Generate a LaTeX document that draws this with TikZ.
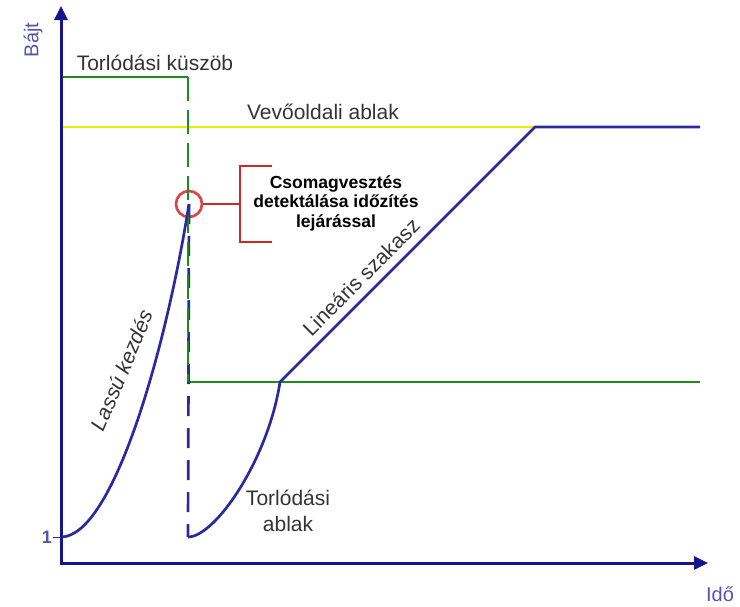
\documentclass[tikz,border=0pt]{standalone}
\usepackage{fontspec}
\setmainfont{Liberation Sans}
\usepackage{tikz}
\usetikzlibrary{arrows.meta}
\definecolor{axisblue}{HTML}{14148C}
\definecolor{curveblue}{HTML}{2A2A9E}
\definecolor{limgreen}{HTML}{1F8A1F}
\definecolor{winyellow}{HTML}{F0EC00}
\definecolor{lossred}{HTML}{D02828}
\definecolor{labgray}{HTML}{333333}
\newcommand{\lblsize}{\fontsize{21}{25}\selectfont}
\tikzset{axisline/.style={line width=3pt,draw=axisblue,line cap=rect,-{Triangle[length=14pt,width=13pt]}},axlabel/.style={text=curveblue!80,font=\fontsize{20}{22}\selectfont},lbl/.style={text=labgray,font=\lblsize},curve/.style={line width=2.7pt,draw=curveblue},limit/.style={line width=2.7pt,draw=limgreen},winline/.style={line width=2.7pt,draw=winyellow},lossmark/.style={line width=2.7pt,draw=lossred},lossring/.style={circle,draw=lossred!85,line width=2.7pt,minimum size=26pt,inner sep=0pt}}

\begin{document}
\begin{tikzpicture}[x=1pt,y=-1pt]
\useasboundingbox (0,0) rectangle (740,606);
\coordinate (o) at (61,563);
\coordinate (ytip) at (61,6);
\coordinate (xtip) at (708,563);
\coordinate (tick) at (61,537);
\coordinate (k0) at (61,77);
\coordinate (k1) at (188,77);
\coordinate (k2) at (188,382);
\coordinate (k3) at (700,382);
\coordinate (drop) at (188,537);
\coordinate (k4) at (280,382);
\coordinate (y0) at (61,127);
\coordinate (rwnd) at (535,127);
\coordinate (rend) at (700,127);
\coordinate (b0) at (240,204);
\coordinate (btop) at (240,166);
\coordinate (bbot) at (240,242);
\coordinate (btopr) at (272,166);
\coordinate (bbotr) at (272,242);
% limits
\draw[winline] (y0) -- (rwnd);
\draw[limit] (k0) -- (k1);
\draw[limit] (k2) -- (k3);
\node[lossring] (loss) at (189,204) {};
\draw[curve,dash pattern=on 20pt off 12pt] (loss.center) -- (drop);
\draw[limit,dash pattern=on 24pt off 9pt] (k1) -- (k2);
% window curves
\draw[curve] (tick) .. controls (112,537) and (165,355) .. (loss.center);
\draw[curve] (drop) .. controls (215,537) and (268,460) .. (k4) -- (rwnd) -- (rend);
% loss bracket
\draw[lossmark] (loss.east) -- (b0);
\draw[lossmark] (btopr) -- (btop) -- (bbot) -- (bbotr);
\node[align=center,text=black,font=\bfseries\fontsize{17.5}{19.5}\selectfont] (detekt) at (336,203) {Csomagvesztés\\detektálása időzítés\\lejárással};
% axes
\draw[axisline] (o) -- (ytip);
\draw[axisline] (o) -- (xtip);
\node[axlabel,rotate=90] (bajt) at (33,40) {Bájt};
\node[axlabel] (ido) at (720,594) {Idő};
\node[axlabel,font=\bfseries\fontsize{18}{20}\selectfont,inner sep=1pt] (one) at (47,537) {1};
\draw[curveblue,line width=1pt] (one.east) -- (tick);
% labels
\node[lbl] (kuszob) at (155,63) {Torlódási küszöb};
\node[lbl] (vevo) at (323,112) {Vevőoldali ablak};
\node[lbl,rotate=67,font=\itshape\lblsize] (lassu) at (122,370) {Lassú kezdés};
\node[lbl,rotate=45] (linear) at (361,277) {Lineáris szakasz};
\node[lbl,align=center,font=\fontsize{21}{26}\selectfont] (cwnd) at (288,511) {Torlódási\\ablak};
\end{tikzpicture}
\end{document}
